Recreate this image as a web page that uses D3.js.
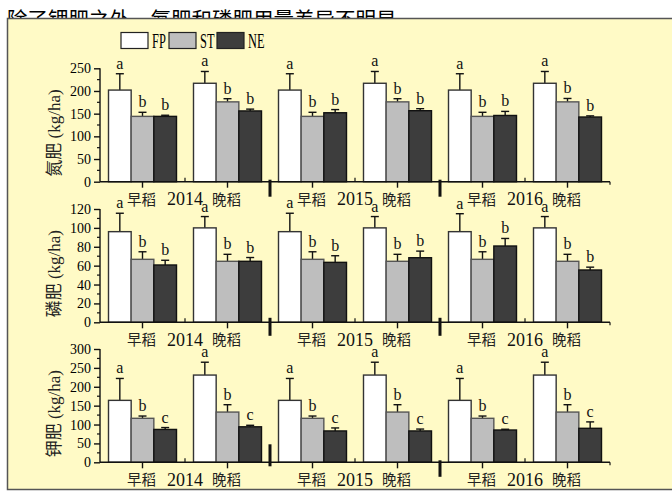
<!DOCTYPE html>
<html><head><meta charset="utf-8">
<script src="https://cdn.jsdelivr.net/npm/d3@7"></script>
<style>
html,body{margin:0;padding:0;background:#fff;}
svg{display:block;}
</style></head>
<body>
<script>
// ---- data ----
const groups = ["2014早稻","2014晚稻","2015早稻","2015晚稻","2016早稻","2016晚稻"];
const seasons = ["早稻","晚稻","早稻","晚稻","早稻","晚稻"];
const years = ["2014","2015","2016"];
const series = ["FP","ST","NE"];

const N_FP = [202,217,202,217,202,217];
const N_FP_err = [36,26,36,26,36,26];
const N_ST = [144,176,144,176,144,176];
const N_ST_err = [9,7,9,7,9,7.5];
const N_NE = [144,156,152,156.5,146,142.6];
const N_NE_err = [2.5,4,7,4.5,9,2.5];
const N_letters = [["a","b","b"],["a","b","b"],["a","b","b"],["a","b","b"],["a","b","b"],["a","b","b"]];

const P_FP = [96,100,96,100,96,100];
const P_FP_err = [19.5,12,19.5,12,19,12];
const P_ST = [66.7,64.6,66.7,64.6,66.7,64.6];
const P_ST_err = [8,7.4,8,7.4,8,7.4];
const P_NE = [60.7,64.6,63.5,68.4,80.8,55.4];
const P_NE_err = [5,4,7,7,8,3];
const P_letters = [["a","b","b"],["a","b","b"],["a","b","b"],["a","b","b"],["a","b","b"],["a","b","b"]];

const K_FP = [164,231,164,231,164,231];
const K_FP_err = [58,34,58,34,58,34];
const K_ST = [116.5,133,116.5,133,116.5,133];
const K_ST_err = [6,19.5,6,19.5,6,19.5];
const K_NE = [87,94,83,83,85.5,90];
const K_NE_err = [5,4,8,5,2,17];
const K_letters = [["a","b","c"],["a","b","c"],["a","b","c"],["a","b","c"],["a","b","c"],["a","b","c"]];

const yTicksN = [0,50,100,150,200,250];
const yTicksP = [0,20,40,60,80,100,120];
const yTicksK = [0,50,100,150,200,250,300];

const titleText = "除了钾肥之外，氮肥和磷肥用量差异不明显";

// ---- layout ----
const W = 672, H = 492;
const serif = "'Liberation Serif','Times New Roman',serif";
const cjk = "'Noto Sans CJK SC','Noto Sans',sans-serif";
const fills = {FP:"#ffffff", ST:"#bebebe", NE:"#3d3d3d"};
const strokes = {FP:"#333", ST:"#555", NE:"#111"};

const svg = d3.select("body").append("svg").attr("width",W).attr("height",H);

// title (partially hidden by box)
svg.append("text").attr("x",7).attr("y",27).attr("font-family",cjk)
  .attr("font-size",20.5).attr("fill","#000").text(titleText);

// background box
svg.append("rect").attr("x",7.5).attr("y",18.5).attr("width",700).attr("height",471)
  .attr("fill","#fffac6").attr("stroke","#555").attr("stroke-width",1.5);

// legend
const leg = svg.append("g");
const legX = [121,169,217];
series.forEach((s,i)=>{
  leg.append("rect").attr("x",legX[i]).attr("y",32.5).attr("width",27).attr("height",16)
    .attr("fill",fills[s]).attr("stroke","#222").attr("stroke-width",1.2);
  leg.append("text").attr("transform",`translate(${legX[i]+31},47.5) scale(0.62,1)`)
    .attr("font-family",serif).attr("font-size",20).attr("fill","#000").text(s);
});

const x = d3.scaleBand().domain(groups).range([100,610]).paddingInner(0.2).paddingOuter(0.1);
const xs = d3.scaleBand().domain(series).range([0,x.bandwidth()]);

const panels = [
  {y0:181.7, y1:68.3, max:250, ticks:yTicksN, minor:25, label:"氮肥", vals:[N_FP,N_ST,N_NE], errs:[N_FP_err,N_ST_err,N_NE_err], letters:N_letters, sep:[[-2,15],[-2,15]]},
  {y0:322.3, y1:209, max:120, ticks:yTicksP, minor:10, label:"磷肥", vals:[P_FP,P_ST,P_NE], errs:[P_FP_err,P_ST_err,P_NE_err], letters:P_letters, sep:[[-4.5,13.5],[-4.5,13.5]]},
  {y0:462.3, y1:349, max:300, ticks:yTicksK, minor:25, label:"钾肥", vals:[K_FP,K_ST,K_NE], errs:[K_FP_err,K_ST_err,K_NE_err], letters:K_letters, sep:[[-18,4],[-2,14.5]]},
];

panels.forEach(p=>{
  const g = svg.append("g");
  const y = d3.scaleLinear().domain([0,p.max]).range([p.y0,p.y1]);

  // bars
  groups.forEach((grp,gi)=>{
    series.forEach((s,si)=>{
      const v = p.vals[si][gi], e = p.errs[si][gi];
      const bx = x(grp)+xs(s), bw = xs.bandwidth(), cx = bx+bw/2;
      // error bar
      g.append("line").attr("x1",cx).attr("x2",cx).attr("y1",y(v)).attr("y2",y(v+e))
        .attr("stroke","#111").attr("stroke-width",1.4);
      g.append("line").attr("x1",cx-4).attr("x2",cx+4).attr("y1",y(v+e)).attr("y2",y(v+e))
        .attr("stroke","#111").attr("stroke-width",1.4);
      g.append("rect").attr("x",bx).attr("y",y(v)).attr("width",bw).attr("height",y(0)-y(v))
        .attr("fill",fills[s]).attr("stroke",strokes[s]).attr("stroke-width",1.4);
      g.append("text").attr("x",cx).attr("y",y(v+e)-5).attr("text-anchor","middle")
        .attr("font-family",serif).attr("font-size",16).attr("fill","#111").text(p.letters[gi][si]);
    });
  });

  // y axis
  const ya = d3.axisLeft(y).tickValues(p.ticks).tickSize(6).tickPadding(3).tickFormat(d3.format("d"));
  const yg = g.append("g").attr("transform","translate(100,0)").call(ya);
  yg.select(".domain").attr("stroke","#111").attr("stroke-width",1.4).attr("d",`M0,${p.y0}V${p.y1}`);
  yg.selectAll(".tick line").attr("stroke","#111").attr("stroke-width",1.4);
  yg.selectAll(".tick text").attr("font-family",serif).attr("font-size",14).attr("fill","#000");
  const minors = d3.range(p.minor, p.max, p.minor*2);
  yg.selectAll(".mnr").data(minors).enter().append("line").attr("x1",-3).attr("x2",0)
    .attr("y1",d=>y(d)).attr("y2",d=>y(d)).attr("stroke","#111").attr("stroke-width",1.2);

  // x axis
  g.append("line").attr("x1",100).attr("x2",610).attr("y1",p.y0).attr("y2",p.y0)
    .attr("stroke","#111").attr("stroke-width",1.6);
  groups.forEach((grp,gi)=>{
    const cx = x(grp)+x.bandwidth()/2;
    g.append("line").attr("x1",cx).attr("x2",cx).attr("y1",p.y0).attr("y2",p.y0+6)
      .attr("stroke","#111").attr("stroke-width",1.4);
    g.append("text").attr("x",cx-1).attr("y",p.y0+23).attr("text-anchor","middle")
      .attr("font-family",cjk).attr("font-size",14.5).attr("fill","#222").text(seasons[gi]);
  });
  years.forEach((yr,yi)=>{
    const mx = x.range()[0] + x.step()*(yi*2+1);
    g.append("line").attr("x1",mx).attr("x2",mx).attr("y1",p.y0).attr("y2",p.y0-4)
      .attr("stroke","#111").attr("stroke-width",1.2);
    g.append("text").attr("x",mx).attr("y",p.y0+23.5).attr("text-anchor","middle")
      .attr("font-family",serif).attr("font-size",18).attr("fill","#111").text(yr);
  });
  g.append("line").attr("x1",610).attr("x2",610).attr("y1",p.y0).attr("y2",p.y0+3)
    .attr("stroke","#111").attr("stroke-width",1.2);
  [1,2].forEach((k,i)=>{
    const sx = x.range()[0] + x.step()*k*2;
    g.append("line").attr("x1",sx).attr("x2",sx).attr("y1",p.y0+p.sep[i][0]).attr("y2",p.y0+p.sep[i][1])
      .attr("stroke","#111").attr("stroke-width",3);
  });

  // y label
  const cy = (p.y0+p.y1)/2 + 8;
  const t = g.append("text").attr("transform",`translate(60,${cy}) rotate(-90)`)
    .attr("text-anchor","middle").attr("fill","#222");
  t.append("tspan").attr("font-family",cjk).attr("font-size",17).text(p.label);
  t.append("tspan").attr("font-family",serif).attr("font-size",17).text(" (kg/ha)");
});
</script>
</body></html>
